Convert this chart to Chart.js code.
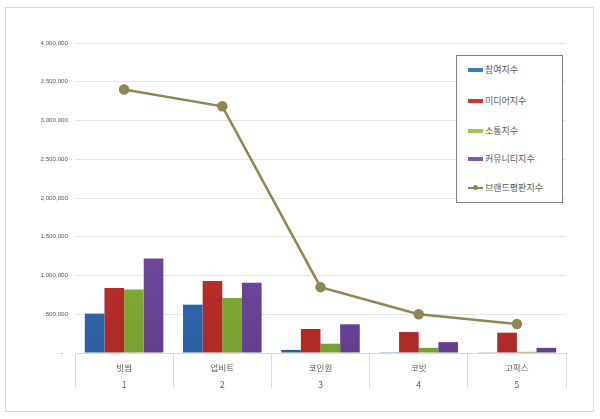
<!DOCTYPE html>
<html>
<head>
<meta charset="utf-8">
<script src="https://cdn.jsdelivr.net/npm/chart.js@4"></script>
<style>
  html,body{margin:0;padding:0;background:#fff;}
  #wrap{position:relative;width:600px;height:419px;}
  #frame{position:absolute;left:5px;top:7px;width:589px;height:405px;border:1px solid #d9d9d9;box-sizing:border-box;}
  #legend{position:absolute;left:456px;top:55px;width:107px;height:148px;border:1px solid #7f7f7f;box-sizing:border-box;background:#fff;
    font-family:"Noto Sans CJK KR","Noto Sans",sans-serif;font-size:9px;color:#595959;}
  #legend div{position:absolute;left:11px;height:12px;line-height:12px;white-space:nowrap;}
  #legend span.sw{display:inline-block;width:15px;height:4px;vertical-align:middle;margin-right:2px;position:relative;top:-1px;}
  #legend span.ln{display:inline-block;width:15px;height:2px;vertical-align:middle;margin-right:2px;position:relative;top:-1px;}
  #legend span.ln i{position:absolute;left:5px;top:-2px;width:5px;height:5px;border-radius:50%;}
</style>
</head>
<body>
<div id="wrap">
  <div id="frame"></div>
  <canvas id="chart" width="600" height="419"></canvas>
  <div id="legend"></div>
</div>
<script>
// ----- 데이터 -----
const exchanges = ['빗썸','업비트','코인원','코빗','고팍스'];
const ranks = ['1','2','3','4','5'];

const seriesNames = ['참여지수','미디어지수','소통지수','커뮤니티지수','브랜드평판지수'];
const participation = [508000, 624000, 40000, 10000, 9000];
const media = [839000, 929000, 310000, 270000, 262000];
const communication = [818000, 710000, 120000, 66000, 15000];
const community = [1218000, 908000, 370000, 140000, 66000];
const brandReputation = [3399000, 3183000, 850000, 500000, 375000];

const yTicks = [0, 500000, 1000000, 1500000, 2000000, 2500000, 3000000, 3500000, 4000000];

// 색상 (위: 밝게, 아래: 어둡게)
const barColors = [
  ['#3b7cca','#2b5fa4'],
  ['#d2352f','#ad2a27'],
  ['#9fc84c','#76a02f'],
  ['#8058b2','#62408f']
];
const lineColor = '#8f8752';

function grad(i){
  return ctx => {
    const {chart} = ctx;
    const a = chart.chartArea;
    if(!a) return barColors[i][0];
    const g = chart.ctx.createLinearGradient(0, a.top, 0, a.bottom);
    g.addColorStop(0, barColors[i][0]);
    g.addColorStop(1, barColors[i][1]);
    return g;
  };
}

const barData = [participation, media, communication, community];
const datasets = barData.map((d,i)=>({
  type:'bar',
  label:seriesNames[i],
  data:d,
  backgroundColor:grad(i),
  borderWidth:0,
  categoryPercentage:0.8,
  barPercentage:1.0,
  order:2
}));
datasets.push({
  type:'line',
  label:seriesNames[4],
  data:brandReputation,
  borderColor:lineColor,
  backgroundColor:lineColor,
  borderWidth:2.5,
  pointRadius:4,
  pointBackgroundColor:lineColor,
  pointBorderColor:lineColor,
  tension:0,
  order:1
});

const labels = exchanges.map((n,i)=>[n, ranks[i]]);

new Chart(document.getElementById('chart'),{
  type:'bar',
  data:{labels, datasets},
  options:{
    responsive:false,
    animation:false,
    layout:{padding:{left:0,right:34,top:43,bottom:31}},
    plugins:{legend:{display:false},tooltip:{enabled:false}},
    scales:{
      x:{
        offset:true,
        grid:{offset:true,drawOnChartArea:false,drawTicks:true,tickLength:35,color:'#d9d9d9'},
        border:{color:'#d9d9d9'},
        ticks:{
          padding:-29,
          color:'#595959',
          font:{family:'"Noto Sans CJK KR", "Noto Sans", sans-serif',size:8.5,lineHeight:'17px'},
          maxRotation:0
        },
        afterFit:s=>{ s.height = 35; }
      },
      y:{
        min:0,max:4000000,
        afterBuildTicks:s=>{ s.ticks = yTicks.map(v=>({value:v})); },
        grid:{color:'#e6e6e6',drawTicks:false},
        border:{display:false},
        ticks:{
          padding:7,
          color:'#595959',
          font:{family:'"Liberation Sans", Arial, sans-serif',size:6.2},
          callback:v=> v===0 ? '-   ' : v.toLocaleString('en-US')
        },
        afterFit:s=>{ s.width = 75; }
      }
    }
  }
});

// ----- 범례 -----
const legendEl = document.getElementById('legend');
const legendY = [8, 39, 69, 97, 126];
seriesNames.forEach((name,i)=>{
  const row = document.createElement('div');
  row.style.top = legendY[i] + 'px';
  if(i<4){
    row.innerHTML = `<span class="sw" style="background:${barColors[i][0]}"></span>${name}`;
  } else {
    row.innerHTML = `<span class="ln" style="background:${lineColor}"><i style="background:${lineColor}"></i></span>${name}`;
  }
  legendEl.appendChild(row);
});
</script>
</body>
</html>
